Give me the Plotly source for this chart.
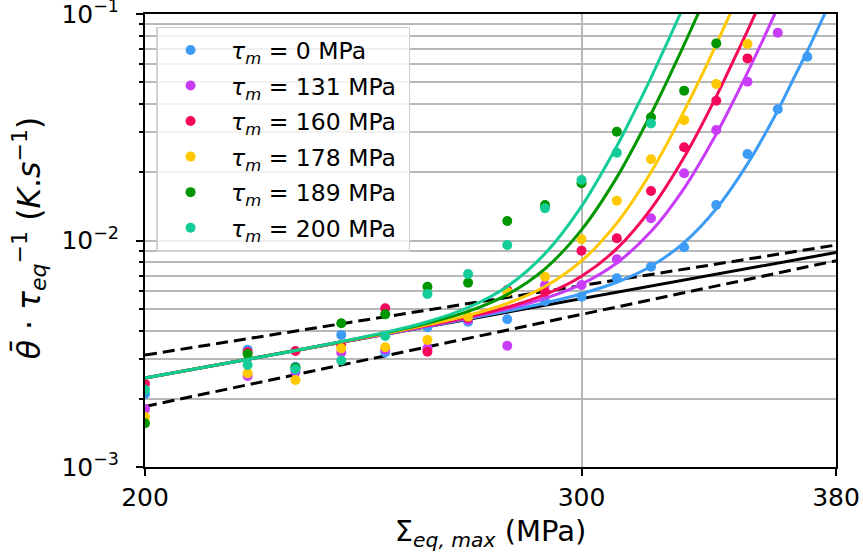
import math
import plotly.graph_objects as go

# ---------------- data ----------------
series_names = ["0", "131", "160", "178", "189", "200"]
series_colors = ["#3d9cf5", "#c93cf7", "#f5085c", "#ffc800", "#009600", "#14cc98"]

x_pts = [200, 220, 230, 240, 250, 260, 270, 280, 290, 300, 310, 320, 330, 340, 350, 360, 370]

y_tm0 = [0.0021, 0.00329, 0.00277, 0.00383, 0.00320, 0.00414, 0.00438, 0.00449, 0.00540,
         0.00565, 0.00681, 0.00766, 0.00933, 0.01435, 0.0241, 0.0380, 0.0648]
y_tm131 = [0.0018, 0.00252, 0.00263, 0.00320, 0.00329, 0.00334, 0.00446, 0.00343, 0.00636,
           0.00636, 0.00826, 0.01253, 0.0198, 0.03075, 0.0502, 0.0827]
y_tm160 = [0.00233, 0.00322, 0.00325, 0.00346, 0.00502, 0.00323, 0.00455, 0.00605, 0.00594,
           0.00902, 0.01023, 0.01654, 0.0258, 0.0414, 0.0637]
y_tm178 = [0.00166, 0.00259, 0.00242, 0.00334, 0.00338, 0.00364, 0.00461, 0.00593, 0.00692,
           0.01012, 0.01499, 0.02283, 0.0340, 0.0491, 0.0737]
y_tm189 = [0.00156, 0.00315, 0.00274, 0.00431, 0.00472, 0.00625, 0.00651, 0.01219, 0.01435,
           0.01789, 0.0302, 0.0350, 0.0459, 0.0742]
y_tm200 = [0.00219, 0.00282, 0.00270, 0.00295, 0.00379, 0.00580, 0.00711, 0.00955, 0.01387,
           0.0185, 0.0244, 0.0329]

# fitted curves
cx_tm0 = [200, 230, 260, 280, 290, 300, 310, 320, 330, 340, 350, 360, 365, 370, 375, 380]
cy_tm0 = [0.00247, 0.00327, 0.00417, 0.00488, 0.00530, 0.00582, 0.00654, 0.00770, 0.00979,
          0.01381, 0.0218, 0.0375, 0.0509, 0.0685, 0.0938, 0.129]
cx_tm131 = [200, 230, 260, 270, 280, 290, 300, 310, 320, 330, 340, 345, 350, 355, 360]
cy_tm131 = [0.00247, 0.00327, 0.00418, 0.00456, 0.00498, 0.00555, 0.00642, 0.00796, 0.01095,
            0.0170, 0.0295, 0.0401, 0.0551, 0.0766, 0.1069]
cx_tm160 = [200, 230, 260, 270, 280, 290, 300, 310, 320, 330, 340, 345, 350, 355]
cy_tm160 = [0.00247, 0.00327, 0.00421, 0.00459, 0.00507, 0.00577, 0.00695, 0.00920, 0.01379,
            0.0233, 0.0432, 0.0604, 0.0843, 0.1188]
cx_tm178 = [200, 230, 250, 260, 270, 280, 290, 300, 310, 320, 330, 335, 340, 345]
cy_tm178 = [0.00247, 0.00327, 0.00388, 0.00424, 0.00467, 0.00527, 0.00626, 0.00812, 0.01194,
            0.02003, 0.0373, 0.0520, 0.0735, 0.1044]
cx_tm189 = [200, 230, 250, 260, 270, 280, 290, 300, 310, 320, 325, 330, 335]
cy_tm189 = [0.00247, 0.00327, 0.00391, 0.00431, 0.00486, 0.00577, 0.00750, 0.01114, 0.0190,
            0.0362, 0.0512, 0.0732, 0.1054]
cx_tm200 = [200, 230, 250, 260, 270, 280, 290, 300, 310, 315, 320, 325, 330]
cy_tm200 = [0.00247, 0.00327, 0.00393, 0.00438, 0.00506, 0.00627, 0.00875, 0.01416, 0.0261,
            0.0368, 0.0523, 0.0756, 0.1093]

# black reference lines
ref_x = [200, 380]
ref_mean = [0.00247, 0.00885]
ref_upper = [0.00312, 0.00955]
ref_lower = [0.00185, 0.00814]

# axis ticks
x_ticks = [200, 300, 380]
x_ticklabels = ["200", "300", "380"]
y_ticks = [1e-3, 1e-2, 1e-1]
y_ticklabels = ["10<sup>\u22123</sup>", "10<sup>\u22122</sup>", "10<sup>\u22121</sup>"]
y_minor = [m * 10.0 ** e for e in (-3, -2) for m in range(2, 10)]

# ---------------- figure ----------------
fig = go.Figure()

for yy, dash in ((ref_upper, "12px,6px"), (ref_lower, "12px,6px"), (ref_mean, "solid")):
    fig.add_trace(go.Scatter(x=ref_x, y=yy, mode="lines", showlegend=False,
                             line=dict(color="black", width=3, dash=dash), hoverinfo="skip"))

pts = [y_tm0, y_tm131, y_tm160, y_tm178, y_tm189, y_tm200]
curves = [(cx_tm0, cy_tm0), (cx_tm131, cy_tm131), (cx_tm160, cy_tm160),
          (cx_tm178, cy_tm178), (cx_tm189, cy_tm189), (cx_tm200, cy_tm200)]

NB = "\u00a0"
for i, name in enumerate(series_names):
    col = series_colors[i]
    yv = pts[i]
    fig.add_trace(go.Scatter(
        x=x_pts[:len(yv)], y=yv, mode="markers",
        name=NB + "<i>\u03c4</i><sub><i>m</i></sub> = " + name + " MPa" + NB,
        legendgroup="g" + str(i),
        marker=dict(color=col, size=10, line=dict(width=0))))
    cx, cy = curves[i]
    fig.add_trace(go.Scatter(
        x=cx, y=cy, mode="lines", showlegend=False, legendgroup="g" + str(i),
        line=dict(color=col, width=3, shape="spline", smoothing=1.0)))

grid_col = "#b8b8b8"
ytitle = ("<i>\u03b8\u0304</i> \u00b7 <i>\u03c4</i><sub><i>eq</i></sub><sup>\u22121</sup>"
          " (<i>K</i>.<i>s</i><sup>\u22121</sup>)")
fig.add_annotation(text=ytitle, textangle=-90, xref="paper", yref="paper",
                   x=-0.168, y=0.507, xanchor="center", yanchor="middle",
                   showarrow=False,
                   font=dict(family="DejaVu Sans", size=31.5, color="black"))

fig.update_layout(
    width=863, height=557,
    margin=dict(l=145, r=27, t=14, b=90, autoexpand=False),
    plot_bgcolor="white", paper_bgcolor="white",
    font=dict(family="DejaVu Sans", size=24, color="black"),
    legend=dict(x=0.016, y=0.972, xanchor="left", yanchor="top",
                bgcolor="rgba(255,255,255,0.8)", bordercolor="#d0d0d0", borderwidth=1.5,
                font=dict(size=23.5), tracegroupgap=2, itemwidth=56),
    xaxis=dict(type="log", range=[math.log10(200), math.log10(380)],
               tickmode="array", tickvals=x_ticks, ticktext=x_ticklabels,
               tickfont=dict(size=25),
               ticks="outside", ticklen=7, tickwidth=2, tickcolor="black",
               showline=True, linewidth=2, linecolor="black", mirror=True,
               showgrid=True, gridcolor=grid_col, gridwidth=1.5, zeroline=False,
               title=dict(text="\u03a3<sub><i>eq, max</i></sub> (MPa)", standoff=10)),
    yaxis=dict(type="log", range=[-3.0002, -0.9998],
               tickmode="array", tickvals=y_ticks, ticktext=y_ticklabels,
               tickfont=dict(size=25), ticklabeloverflow="allow",
               ticks="outside", ticklen=7, tickwidth=2, tickcolor="black",
               ticklabelstandoff=12,
               showline=True, linewidth=2, linecolor="black", mirror=True,
               showgrid=True, gridcolor=grid_col, gridwidth=1.5, zeroline=False,
               minor=dict(tickmode="array", tickvals=y_minor, ticks="outside", ticklen=4,
                          tickwidth=1.5, tickcolor="black", showgrid=True,
                          gridcolor=grid_col, gridwidth=1.5)),
)

fig.write_html("out.html", config={"displayModeBar": False},
               post_script="document.body.style.margin='0';")
